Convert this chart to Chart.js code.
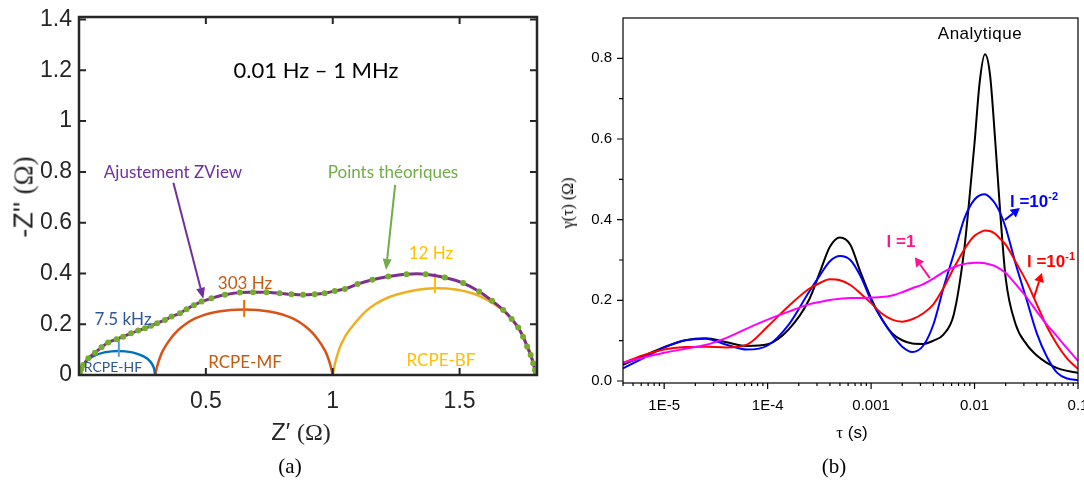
<!DOCTYPE html>
<html>
<head>
<meta charset="utf-8">
<script src="https://cdn.jsdelivr.net/npm/chart.js@4.4.0/dist/chart.umd.min.js"></script>
<style>
  body { margin: 0; width: 1084px; height: 488px; background: #fff; position: relative; overflow: hidden; font-family: "Liberation Sans", Arial, sans-serif; }
  #wa { position: absolute; left: 0; top: 0; width: 560px; height: 450px; }
  #wb { position: absolute; left: 560px; top: 0; width: 524px; height: 450px; }
  .t { position: absolute; transform: translate(-50%, -50%); white-space: nowrap; line-height: 1; }
  .cal { font-family: Lato, "Open Sans", sans-serif; }
  .serif { font-family: "Liberation Serif", "DejaVu Serif", serif; }
  .rot { transform: translate(-50%, -50%) rotate(-90deg); }
  .lam { font-weight: bold; font-size: 17px; }
  .lam sup { font-size: 11px; vertical-align: 7px; line-height: 0; }
</style>
</head>
<body>
<div id="wa"><canvas id="nyquist" width="560" height="450"></canvas></div>
<div id="wb"><canvas id="drt" width="524" height="450"></canvas></div>

<!-- (a) texts -->
<div class="t cal" style="left:316px;top:70px;font-size:22px;color:#000">0.01 Hz – 1 MHz</div>
<div class="t cal" style="left:173px;top:171px;font-size:17px;color:#7030a0">Ajustement ZView</div>
<div class="t cal" style="left:393px;top:171px;font-size:17px;color:#70ad47">Points théoriques</div>
<div class="t cal" style="left:123px;top:318px;font-size:17px;color:#2f5597">7.5 kHz</div>
<div class="t cal" style="left:245px;top:282px;font-size:17px;color:#c55a11">303 Hz</div>
<div class="t cal" style="left:431px;top:252px;font-size:17px;color:#ffc000">12 Hz</div>
<div class="t cal" style="left:113px;top:367px;font-size:14px;color:#2f5597">RCPE-HF</div>
<div class="t cal" style="left:245px;top:361px;font-size:17px;color:#c55a11">RCPE-MF</div>
<div class="t cal" style="left:441px;top:359px;font-size:17px;color:#ffc000">RCPE-BF</div>
<div class="t rot" style="left:24px;top:197px;font-size:27px;color:#262626">-Z'' <span class="serif">(Ω)</span></div>
<div class="t" style="left:301px;top:432px;font-size:24px;color:#262626">Z′ <span class="serif">(Ω)</span></div>
<div class="t serif" style="left:290px;top:466px;font-size:21px;color:#000">(a)</div>

<!-- (b) texts -->
<div class="t" style="left:980px;top:33px;font-size:17px;letter-spacing:0.5px;color:#000">Analytique</div>
<div class="t rot serif" style="left:568px;top:203px;font-size:16px;color:#000">γ(τ) (Ω)</div>
<div class="t" style="left:852px;top:432px;font-size:17px;color:#000"><span class="serif">τ</span> (s)</div>
<div class="t serif" style="left:834px;top:466px;font-size:21px;color:#000">(b)</div>
<div class="t lam" style="left:901px;top:241px;color:#ff1493">l =1</div>
<div class="t lam" style="left:1034px;top:201px;color:#0000ff">l =10<sup>-2</sup></div>
<div class="t lam" style="left:1051px;top:261px;color:#ff0000">l =10<sup>-1</sup></div>

<script>
// ---- (a) Nyquist data ----
const zrTicks = [0.5, 1, 1.5];
const ziTicks = [0, 0.2, 0.4, 0.6, 0.8, 1, 1.2, 1.4];

// theoretical points / ZView fit
const dataZr = [0, 0.004, 0.009, 0.017, 0.037, 0.063, 0.089, 0.115, 0.148, 0.174, 0.205, 0.233, 0.26, 0.284, 0.308, 0.339, 0.365, 0.398, 0.424, 0.453, 0.483, 0.522, 0.575, 0.634, 0.686, 0.739, 0.791, 0.837, 0.883, 0.929, 0.968, 1.008, 1.048, 1.098, 1.156, 1.219, 1.291, 1.366, 1.442, 1.514, 1.577, 1.628, 1.672, 1.705, 1.731, 1.75, 1.766, 1.78, 1.79, 1.797, 1.801, 1.803];
const dataZi = [0, 0.012, 0.024, 0.039, 0.066, 0.088, 0.109, 0.128, 0.141, 0.151, 0.164, 0.175, 0.184, 0.194, 0.204, 0.217, 0.23, 0.243, 0.259, 0.275, 0.289, 0.302, 0.316, 0.325, 0.326, 0.326, 0.322, 0.318, 0.316, 0.318, 0.322, 0.331, 0.339, 0.358, 0.375, 0.388, 0.397, 0.397, 0.384, 0.362, 0.329, 0.292, 0.256, 0.221, 0.187, 0.151, 0.112, 0.079, 0.046, 0.02, 0.009, 0];

// RCPE arcs
const hfZr = [0, 0.008, 0.025, 0.055, 0.1, 0.155, 0.21, 0.255, 0.282, 0.295, 0.3];
const hfZi = [0, 0.028, 0.052, 0.073, 0.089, 0.095, 0.089, 0.073, 0.052, 0.028, 0];
const mfZr = [0.3, 0.312, 0.33, 0.36, 0.4, 0.46, 0.55, 0.65, 0.75, 0.84, 0.9, 0.94, 0.97, 0.988, 1.0];
const mfZi = [0, 0.048, 0.095, 0.142, 0.185, 0.224, 0.25, 0.258, 0.25, 0.224, 0.185, 0.142, 0.095, 0.048, 0];
const bfZr = [1.0, 1.012, 1.035, 1.068, 1.147, 1.252, 1.403, 1.55, 1.672, 1.737, 1.77, 1.79, 1.803];
const bfZi = [0, 0.058, 0.125, 0.18, 0.265, 0.317, 0.342, 0.322, 0.254, 0.175, 0.11, 0.055, 0];

// peak frequency markers (HF, MF, BF)
const markZr = [0.157, 0.651, 1.403];
const markLow = [0.072, 0.229, 0.323];
const markHigh = [0.145, 0.296, 0.402];

// ---- (b) DRT data ----
const tauTicks = [1e-5, 1e-4, 1e-3, 1e-2, 1e-1];
const tauLabels = ['1E-5', '1E-4', '0.001', '0.01', '0.1'];
const gTicks = [0, 0.2, 0.4, 0.6, 0.8];
const gMinor = [0.1, 0.3, 0.5, 0.7];

const tau = [4.0e-6, 6.3e-6, 1e-5, 1.6e-5, 2.5e-5, 4e-5, 6.3e-5, 1e-4, 1.6e-4, 2.5e-4, 3.2e-4, 4e-4, 5e-4, 6.3e-4, 7.9e-4, 1e-3, 1.26e-3, 1.6e-3, 2e-3, 2.5e-3, 3.2e-3, 4e-3, 5e-3, 6.3e-3, 7.9e-3, 8.9e-3, 0.01, 0.0112, 0.0126, 0.0141, 0.0158, 0.0178, 0.02, 0.025, 0.032, 0.04, 0.05, 0.063, 0.079, 0.1];
const gAnalytique = [0.040, 0.062, 0.084, 0.101, 0.106, 0.096, 0.087, 0.091, 0.128, 0.2, 0.27, 0.333, 0.356, 0.338, 0.27, 0.205, 0.155, 0.118, 0.101, 0.093, 0.092, 0.1, 0.115, 0.165, 0.32, 0.45, 0.59, 0.74, 0.81, 0.76, 0.6, 0.41, 0.255, 0.14, 0.09, 0.063, 0.045, 0.032, 0.025, 0.02];
const gL2 = [0.031, 0.057, 0.083, 0.101, 0.105, 0.09, 0.078, 0.088, 0.14, 0.22, 0.262, 0.297, 0.31, 0.3, 0.26, 0.2, 0.155, 0.115, 0.085, 0.072, 0.088, 0.14, 0.23, 0.315, 0.4, 0.43, 0.45, 0.46, 0.463, 0.455, 0.44, 0.415, 0.38, 0.29, 0.2, 0.118, 0.06, 0.02, 0.006, 0.002];
const gL1 = [0.045, 0.064, 0.078, 0.084, 0.085, 0.083, 0.09, 0.135, 0.186, 0.228, 0.243, 0.252, 0.25, 0.238, 0.217, 0.193, 0.168, 0.152, 0.147, 0.153, 0.168, 0.19, 0.23, 0.28, 0.325, 0.345, 0.36, 0.368, 0.373, 0.372, 0.365, 0.352, 0.338, 0.295, 0.245, 0.19, 0.135, 0.09, 0.055, 0.03];
const gL0 = [0.045, 0.058, 0.07, 0.08, 0.089, 0.107, 0.13, 0.152, 0.172, 0.19, 0.196, 0.201, 0.204, 0.206, 0.206, 0.207, 0.208, 0.212, 0.22, 0.23, 0.24, 0.254, 0.27, 0.282, 0.29, 0.292, 0.293, 0.293, 0.292, 0.289, 0.285, 0.277, 0.268, 0.24, 0.207, 0.172, 0.14, 0.11, 0.08, 0.05];

function pts(xs, ys) { return xs.map((x, i) => ({ x: x, y: ys[i] })); }

function arrow(ctx, x1, y1, x2, y2, color, w, len, half) {
  const ang = Math.atan2(y2 - y1, x2 - x1);
  const bx = x2 - len * Math.cos(ang), by = y2 - len * Math.sin(ang);
  ctx.strokeStyle = color; ctx.fillStyle = color; ctx.lineWidth = w;
  ctx.beginPath(); ctx.moveTo(x1, y1); ctx.lineTo(bx, by); ctx.stroke();
  ctx.beginPath();
  ctx.moveTo(x2, y2);
  ctx.lineTo(bx + half * Math.sin(ang), by - half * Math.cos(ang));
  ctx.lineTo(bx - half * Math.sin(ang), by + half * Math.cos(ang));
  ctx.closePath(); ctx.fill();
}

// box with inward ticks on all four sides + arrows
const nyquistFrame = {
  id: 'nyquistFrame',
  afterDatasetsDraw(chart) {
    const { ctx, chartArea: a, scales: { x, y } } = chart;
    ctx.save();
    ctx.strokeStyle = '#262626';
    ctx.lineWidth = 2;
    ctx.beginPath();
    zrTicks.forEach(v => {
      const p = x.getPixelForValue(v);
      ctx.moveTo(p, a.bottom); ctx.lineTo(p, a.bottom - 7);
      ctx.moveTo(p, a.top); ctx.lineTo(p, a.top + 7);
    });
    ziTicks.forEach(v => {
      const p = y.getPixelForValue(v);
      ctx.moveTo(a.left, p); ctx.lineTo(a.left + 7, p);
      ctx.moveTo(a.right, p); ctx.lineTo(a.right - 7, p);
    });
    ctx.stroke();
    ctx.lineWidth = 2.5;
    ctx.strokeRect(a.left, a.top, a.right - a.left, a.bottom - a.top);
    arrow(ctx, x.getPixelForValue(0.372), y.getPixelForValue(0.757), x.getPixelForValue(0.49), y.getPixelForValue(0.3), '#7030a0', 2, 11, 4.5);
    arrow(ctx, x.getPixelForValue(1.246), y.getPixelForValue(0.749), x.getPixelForValue(1.21), y.getPixelForValue(0.414), '#70ad47', 2, 11, 4.5);
    ctx.restore();
  }
};

const drtFrame = {
  id: 'drtFrame',
  afterDatasetsDraw(chart) {
    const { ctx, chartArea: a, scales: { x, y } } = chart;
    ctx.save();
    ctx.strokeStyle = '#000';
    ctx.lineWidth = 1.2;
    ctx.beginPath();
    tauTicks.forEach(v => {
      for (let k = 1; k <= 9; k++) {
        const p = x.getPixelForValue(v * k);
        if (p > a.right + 0.5) continue;
        ctx.moveTo(p, a.bottom); ctx.lineTo(p, a.bottom + (k === 1 ? 6 : 3));
      }
    });
    // minor ticks of the first partial decade
    for (let k = 4; k <= 9; k++) {
      const p = x.getPixelForValue(k * 1e-6);
      if (p < a.left - 0.5) continue;
      ctx.moveTo(p, a.bottom); ctx.lineTo(p, a.bottom + 3);
    }
    gTicks.forEach(v => {
      const p = y.getPixelForValue(v);
      ctx.moveTo(a.left, p); ctx.lineTo(a.left - 6, p);
    });
    gMinor.forEach(v => {
      const p = y.getPixelForValue(v);
      ctx.moveTo(a.left, p); ctx.lineTo(a.left - 4, p);
    });
    ctx.stroke();
    ctx.strokeRect(a.left, a.top, a.right - a.left, a.bottom - a.top);
    arrow(ctx, x.getPixelForValue(3.7e-3), y.getPixelForValue(0.255), x.getPixelForValue(2.65e-3), y.getPixelForValue(0.307), '#ff1493', 2, 9, 5);
    arrow(ctx, x.getPixelForValue(0.0196), y.getPixelForValue(0.399), x.getPixelForValue(0.0274), y.getPixelForValue(0.429), '#0000ff', 2, 9, 5);
    arrow(ctx, x.getPixelForValue(0.0374), y.getPixelForValue(0.206), x.getPixelForValue(0.0447), y.getPixelForValue(0.268), '#ff0000', 2, 9, 5);
    ctx.restore();
  }
};

const arcLine = (label, xs, ys, color) => ({
  label: label, data: pts(xs, ys), showLine: true, borderColor: color,
  borderWidth: 2.5, pointRadius: 0, tension: 0.35, fill: false
});

const markerSets = markZr.map((z, i) => ({
  label: 'marker' + i,
  data: pts([z, z], [markLow[i], markHigh[i]]),
  showLine: true, borderColor: ['#5b9bd5', '#e46c0a', '#ffc000'][i],
  borderWidth: 2, pointRadius: 0
}));

new Chart(document.getElementById('nyquist'), {
  type: 'scatter',
  data: {
    datasets: [
      { label: 'Points théoriques', data: pts(dataZr, dataZi), showLine: false,
        pointRadius: 3, pointBackgroundColor: '#77ac30', pointBorderWidth: 0 },
      { label: 'Ajustement ZView', data: pts(dataZr, dataZi), showLine: true,
        borderColor: '#7e2f8e', borderWidth: 3, pointRadius: 0, tension: 0.3 },
      ...markerSets,
      arcLine('RCPE-HF', hfZr, hfZi, '#0072bd'),
      arcLine('RCPE-MF', mfZr, mfZi, '#d95319'),
      arcLine('RCPE-BF', bfZr, bfZi, '#edb120')
    ]
  },
  options: {
    responsive: false,
    animation: false,
    layout: { padding: { top: 17, right: 23, left: 0, bottom: 0 } },
    plugins: { legend: { display: false }, tooltip: { enabled: false } },
    scales: {
      x: {
        type: 'linear', min: 0, max: 1.805,
        grid: { display: false, drawTicks: false }, border: { display: false },
        ticks: { color: '#262626', font: { size: 23, family: 'Liberation Sans' }, padding: 13, maxRotation: 0,
          callback: v => String(v) },
        afterBuildTicks: s => { s.ticks = zrTicks.map(v => ({ value: v })); },
        afterFit: s => { s.height = 75; s.paddingLeft = 0; s.paddingRight = 0; }
      },
      y: {
        type: 'linear', min: 0, max: 1.41,
        grid: { display: false, drawTicks: false }, border: { display: false },
        ticks: { color: '#262626', font: { size: 23, family: 'Liberation Sans' }, padding: 7,
          callback: v => String(v) },
        afterBuildTicks: s => { s.ticks = ziTicks.map(v => ({ value: v })); },
        afterFit: s => { s.width = 79; s.paddingTop = 0; s.paddingBottom = 0; }
      }
    }
  },
  plugins: [nyquistFrame]
});

const drtLine = (label, ys, color) => ({
  label: label, data: pts(tau, ys), showLine: true, borderColor: color,
  borderWidth: 2, pointRadius: 0, cubicInterpolationMode: 'monotone', fill: false
});

new Chart(document.getElementById('drt'), {
  type: 'scatter',
  data: {
    datasets: [
      drtLine('Analytique', gAnalytique, '#000000'),
      drtLine('l = 1e-2', gL2, '#0000ff'),
      drtLine('l = 1e-1', gL1, '#ff0000'),
      drtLine('l = 1', gL0, '#ff00ff')
    ].reverse()
  },
  options: {
    responsive: false,
    animation: false,
    layout: { padding: { top: 18, right: 6, left: 0, bottom: 0 } },
    plugins: { legend: { display: false }, tooltip: { enabled: false } },
    scales: {
      x: {
        type: 'logarithmic', min: 4e-6, max: 0.1,
        grid: { display: false, drawTicks: false }, border: { display: false },
        ticks: {
          color: '#000', font: { size: 15, family: 'Liberation Sans' }, padding: 14, maxRotation: 0,
          callback: (v, i) => tauLabels[i]
        },
        afterBuildTicks: s => { s.ticks = tauTicks.map(v => ({ value: v })); },
        afterFit: s => { s.height = 67; s.paddingLeft = 0; s.paddingRight = 0; }
      },
      y: {
        type: 'linear', min: -0.005, max: 0.9,
        grid: { display: false, drawTicks: false }, border: { display: false },
        ticks: {
          color: '#000', font: { size: 15, family: 'Liberation Sans' }, padding: 11,
          callback: v => v.toFixed(1)
        },
        afterBuildTicks: s => { s.ticks = gTicks.map(v => ({ value: v })); },
        afterFit: s => { s.width = 63; s.paddingTop = 0; s.paddingBottom = 0; }
      }
    }
  },
  plugins: [drtFrame]
});
</script>
</body>
</html>
